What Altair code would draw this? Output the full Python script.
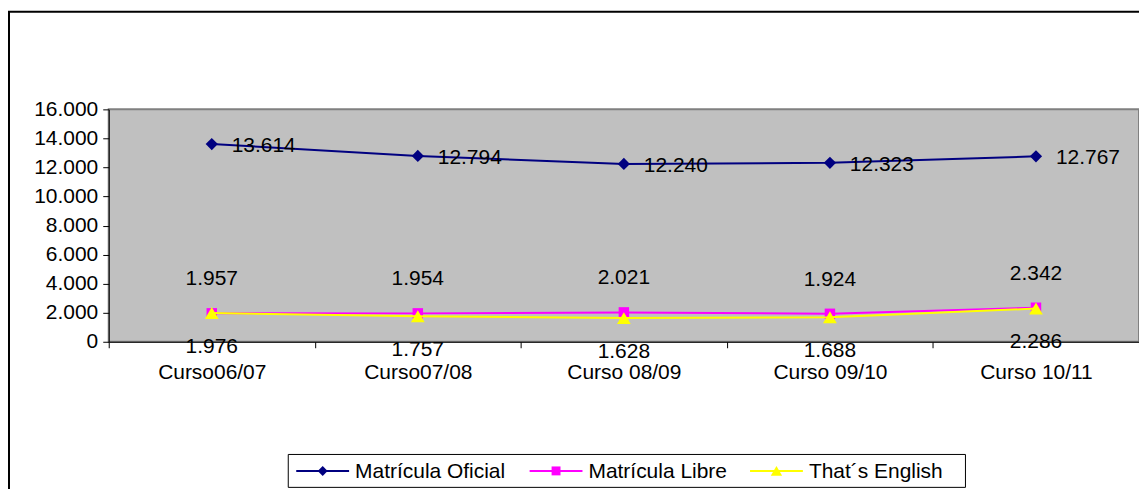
import altair as alt
import pandas as pd

cursos = ["Curso06/07", "Curso07/08", "Curso 08/09", "Curso 09/10", "Curso 10/11"]
series_names = ["Matrícula Oficial", "Matrícula Libre", "That´s English"]
oficial = [13614, 12794, 12240, 12323, 12767]
libre = [1957, 1954, 2021, 1924, 2342]
english = [1976, 1757, 1628, 1688, 2286]
colors = ["#000080", "#FF00FF", "#FFFF00"]
point_shapes = ["diamond", "square", "triangle-up"]
point_sizes = [150, 110, 190]
y_ticks = [0, 2000, 4000, 6000, 8000, 10000, 12000, 14000, 16000]

rows = []
for name, vals in zip(series_names, [oficial, libre, english]):
    for c, v in zip(cursos, vals):
        rows.append({"curso": c, "serie": name, "valor": v})
df = pd.DataFrame(rows)
one = pd.DataFrame({"k": [0]})

FONT = "Liberation Sans"
FS = 21

x_enc = alt.X(
    "curso:N", sort=cursos,
    scale=alt.Scale(type="band", paddingInner=0, paddingOuter=0, domain=cursos),
    axis=alt.Axis(title=None, labelAngle=0, tickBand="extent", labelFont=FONT,
                  labelFontSize=FS, labelColor="black", domainColor="black",
                  tickColor="black", tickSize=6, labelPadding=14, grid=False),
)
y_enc = alt.Y(
    "valor:Q",
    scale=alt.Scale(domain=[0, 16000], nice=False),
    axis=alt.Axis(title=None, values=y_ticks, grid=False, labelFont=FONT,
                  labelFontSize=FS, labelColor="black", domainColor="black",
                  tickColor="black", tickSize=6, labelPadding=5,
                  labelExpr="replace(format(datum.value, ','), ',', '.')"),
)
color_enc = alt.Color("serie:N", scale=alt.Scale(domain=series_names, range=colors), legend=None)

base = alt.Chart(df).encode(x=x_enc, y=y_enc)

# outer chart frame (decoration)
frame = alt.Chart(one).mark_rect(fill="white", fillOpacity=0, stroke="black", strokeWidth=2).encode(
    x=alt.value(-100), x2=alt.value(1100), y=alt.value(-98), y2=alt.value(450)
)

layers = [frame]
for name, shp, sz in zip(series_names, point_shapes, point_sizes):
    sub = base.transform_filter(alt.datum.serie == name)
    layers.append(sub.mark_line(strokeWidth=2).encode(color=color_enc))
    layers.append(sub.mark_point(filled=True, shape=shp, size=sz, opacity=1).encode(color=color_enc))

lab = base.transform_calculate(label="replace(format(datum.valor, ','), ',', '.')")
layers.append(lab.transform_filter(alt.datum.serie == series_names[0]).mark_text(
    align="left", baseline="middle", dx=20, dy=2, font=FONT, fontSize=FS, color="black").encode(text="label:N"))
layers.append(lab.transform_filter(alt.datum.serie == series_names[1]).mark_text(
    align="center", baseline="middle", dy=-34, font=FONT, fontSize=FS, color="black").encode(text="label:N"))
layers.append(lab.transform_filter(alt.datum.serie == series_names[2]).mark_text(
    align="center", baseline="middle", dy=34, font=FONT, fontSize=FS, color="black").encode(text="label:N"))

# legend box (drawn as guide decoration below the plot)
LEG_LEFT, LEG_RIGHT, LEG_TOP, LEG_BOTTOM = 180, 859, 346, 379
LEG_CY = (LEG_TOP + LEG_BOTTOM) / 2
SYM_START = [188, 422, 643]
SYM_LEN = 53
legend_sizes = [100, 80, 130]
layers.append(alt.Chart(one).mark_rect(fill="white", stroke="black", strokeWidth=1).encode(
    x=alt.value(LEG_LEFT), x2=alt.value(LEG_RIGHT), y=alt.value(LEG_TOP), y2=alt.value(LEG_BOTTOM)))
for name, col, shp, sz, x0 in zip(series_names, colors, point_shapes, legend_sizes, SYM_START):
    layers.append(alt.Chart(one).mark_rule(color=col, strokeWidth=2).encode(
        x=alt.value(x0), x2=alt.value(x0 + SYM_LEN), y=alt.value(LEG_CY)))
    layers.append(alt.Chart(one).mark_point(filled=True, shape=shp, size=sz, color=col, opacity=1).encode(
        x=alt.value(x0 + SYM_LEN / 2), y=alt.value(LEG_CY)))
    layers.append(alt.Chart(one).mark_text(align="left", baseline="middle", font=FONT, fontSize=FS,
                                           color="black").encode(
        x=alt.value(x0 + SYM_LEN + 6), y=alt.value(LEG_CY + 1), text=alt.value(name)))

chart = alt.layer(*layers).properties(
    width=1033, height=233,
    autosize=alt.AutoSizeParams(type="none"),
    padding={"left": 101, "top": 101, "right": 0, "bottom": 147},
    background="white",
).configure_view(fill="#C0C0C0", stroke="#808080", strokeWidth=2)

chart.save("out.html", embed_options={"renderer": "svg", "actions": False})
